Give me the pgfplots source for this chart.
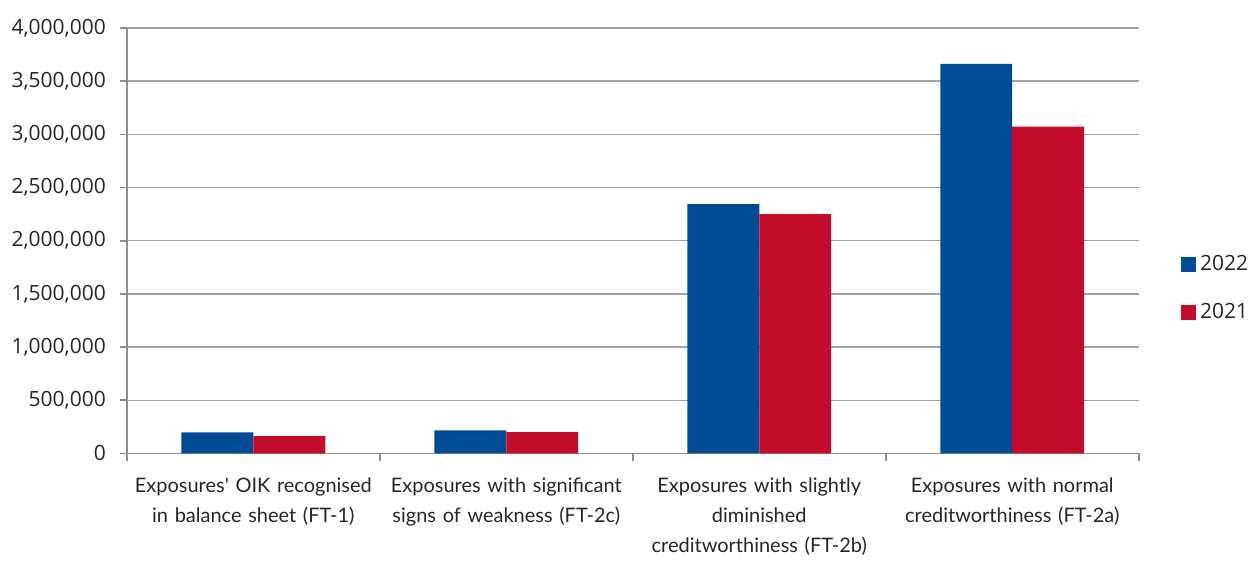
\documentclass[border=0pt]{standalone}
\usepackage{pgfplots}
\pgfplotsset{compat=1.18}
\usepackage{fontspec}
\setmainfont{Lato}
\newfontfamily\tickfont{Open Sans}
\definecolor{bar22}{HTML}{004B93}
\definecolor{bar21}{HTML}{C10C2B}
\definecolor{gridgray}{HTML}{A3A3A3}
\definecolor{axisgray}{HTML}{8E8E8E}
\definecolor{txt}{HTML}{262626}
\begin{document}
\begin{tikzpicture}
\begin{axis}[
  name=ax,
  scale only axis,
  width=506.5pt, height=213pt,
  ybar=0pt, bar width=36pt,
  xmin=-0.5, xmax=3.5,
  ymin=0, ymax=4000000,
  ytick={0,500000,...,4000000},
  scaled y ticks=false,
  /pgf/number format/fixed,
  /pgf/number format/1000 sep={,},
  /pgf/number format/assume math mode=true,
  yticklabel style={font=\tickfont\fontsize{10.5}{12}\selectfont, text=txt, xshift=-3.5pt},
  xtick={0,1,2,3},
  xticklabels={{Exposures\textquotesingle\ OIK recognised\\in balance sheet (FT-1)},
                {Exposures with significant\\signs of weakness (FT-2c)},
                {Exposures with slightly\\diminished\\creditworthiness (FT-2b)},
                {Exposures with normal\\creditworthiness (FT-2a)}},
  xticklabel style={font=\fontsize{10}{15}\selectfont, text=txt, align=center, text width=130pt, yshift=-5pt},
  major x tick style={draw=none},
  minor xtick={-0.5,0.5,1.5,2.5,3.5},
  minor x tick style={draw=axisgray, line width=0.8pt},
  minor tick length=4pt,
  major tick length=3.5pt,
  tick align=outside,
  y tick style={draw=axisgray, line width=0.8pt},
  axis x line*=bottom,
  axis y line*=left,
  axis line style={draw=axisgray, line width=0.8pt, -},
  ymajorgrids,
  grid style={draw=gridgray, line width=0.7pt},
  legend style={at={(1,0.387)}, anchor=west, xshift=21pt, draw=none, fill=none,
    font=\tickfont\fontsize{10.5}{12}\selectfont, text=txt,
    row sep=11pt, inner sep=0pt},
  legend cell align=left,
  legend image code/.code={\fill[#1] (0pt,-3.75pt) rectangle (7.5pt,3.75pt);},
]
\addplot[fill=bar22, draw=none] coordinates {(0,198000) (1,216000) (2,2343000) (3,3662000)};
\addplot[fill=bar21, draw=none] coordinates {(0,163000) (1,200000) (2,2249000) (3,3073000)};
\legend{2022,2021}
\end{axis}
\path ([xshift=-63.5pt,yshift=-53pt]ax.south west) rectangle ([xshift=56pt,yshift=14pt]ax.north east);
\end{tikzpicture}
\end{document}
